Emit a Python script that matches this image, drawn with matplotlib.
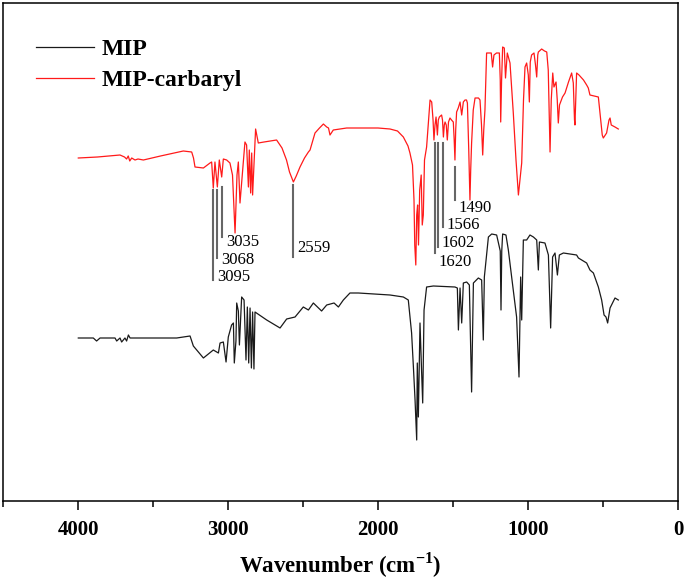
import numpy as np
import matplotlib.pyplot as plt

plt.rcParams['font.family'] = 'Liberation Serif'
plt.rcParams['mathtext.fontset'] = 'custom'
plt.rcParams['mathtext.rm'] = 'Liberation Serif'
plt.rcParams['mathtext.bf'] = 'Liberation Serif:bold'

# MIP spectrum (wavenumber, transmittance a.u.)
wn_mip = [3998, 3898, 3876, 3853, 3753, 3742, 3720, 3709, 3687, 3676, 3664, 3653, 3342, 3253,
          3231, 3164, 3098, 3064, 3053, 3031, 3013, 2998, 2976, 2964, 2958, 2947, 2942, 2931,
          2924, 2909, 2893, 2880, 2871, 2862, 2853, 2844, 2836, 2827, 2820, 2742, 2653, 2609,
          2553, 2498, 2464, 2431, 2376, 2342, 2293, 2264, 2231, 2187, 2131, 1920, 1831, 1798,
          1776, 1764, 1753, 1742, 1738, 1731, 1720, 1709, 1702, 1693, 1676, 1631, 1487, 1471,
          1464, 1453, 1442, 1431, 1409, 1391, 1376, 1364, 1331, 1309, 1298, 1291, 1264, 1242,
          1209, 1185, 1180, 1175, 1169, 1147, 1131, 1109, 1076, 1060, 1049, 1042, 1031, 1009,
          987, 964, 942, 931, 924, 887, 864, 849, 836, 820, 804, 791, 764, 676, 664, 609, 587,
          564, 531, 509, 493, 480, 469, 453, 420, 398]
t_mip = [163, 163, 160, 163, 163, 160, 163, 159, 163, 160, 166, 163, 163, 165,
         155, 143, 151, 148, 158, 159, 139, 164, 176, 178, 138, 160, 198, 190,
         156, 204, 201, 141, 194, 138, 193, 133, 189, 132, 189, 181, 173, 182,
         184, 194, 191, 198, 190, 196, 198, 194, 201, 208, 208, 206, 204, 201,
         168, 134, 101, 61, 138, 84, 178, 128, 98, 191, 214, 215, 214, 213,
         171, 213, 178, 218, 219, 216, 109, 218, 223, 221, 161, 224, 264, 267,
         266, 250, 191, 250, 267, 266, 251, 224, 184, 124, 224, 181, 261, 261,
         266, 264, 261, 231, 259, 258, 246, 173, 244, 248, 226, 246, 248, 246, 243, 238, 231,
         228, 214, 201, 186, 184, 178, 193, 203, 201]

# MIP-carbaryl spectrum
wn_car = [3998, 3870, 3720, 3690, 3676, 3665, 3655, 3642, 3620, 3600, 3564, 3450, 3298, 3242,
          3230, 3220, 3164, 3120, 3109, 3098, 3087, 3071, 3058, 3042, 3031, 3009, 2987, 2970,
          2953, 2940, 2931, 2920, 2887, 2876, 2864, 2858, 2849, 2842, 2836, 2816, 2798, 2760,
          2676, 2640, 2610, 2590, 2564, 2545, 2520, 2490, 2464, 2453, 2420, 2390, 2364, 2342,
          2330, 2320, 2298, 2209, 2100, 2000, 1920, 1870, 1831, 1800, 1787, 1770, 1760, 1755,
          1748, 1742, 1736, 1730, 1722, 1712, 1705, 1698, 1690, 1676, 1665, 1653, 1642, 1633,
          1627, 1620, 1613, 1604, 1598, 1591, 1576, 1570, 1564, 1558, 1553, 1545, 1538, 1530,
          1520, 1510, 1498, 1492, 1487, 1482, 1476, 1465, 1453, 1442, 1431, 1420, 1410, 1404,
          1395, 1387, 1382, 1376, 1365, 1353, 1330, 1320, 1310, 1302, 1295, 1287, 1280, 1276,
          1260, 1245, 1236, 1227, 1210, 1191, 1185, 1182, 1176, 1169, 1158, 1150, 1138, 1120,
          1098, 1080, 1064, 1050, 1042, 1030, 1020, 1009, 998, 991, 985, 976, 960, 950, 942,
          935, 931, 909, 890, 875, 865, 853, 845, 835, 827, 813, 805, 798, 790, 770, 753, 730,
          709, 698, 690, 687, 680, 676, 660, 630, 609, 598, 587, 560, 531, 515, 505, 498, 485,
          476, 460, 453, 445, 420, 398]
t_car = [343, 344, 346, 344, 342, 345, 340, 343, 341, 342, 341, 345, 350, 349,
         343, 334, 333, 338, 339, 313, 339, 314, 341, 324, 342, 341, 338, 326,
         268, 326, 339, 298, 359, 356, 314, 351, 308, 348, 306, 372, 358, 359,
         361, 353, 341, 329, 319, 325, 334, 343, 349, 351, 368, 373, 377, 374,
         373, 366, 371, 373, 373, 373, 372, 370, 364, 355, 348, 336, 301, 256,
         236, 286, 296, 256, 311, 326, 276, 286, 341, 354, 376, 401, 399, 381,
         361, 376, 384, 366, 381, 384, 386, 381, 364, 376, 379, 376, 361, 379,
         383, 381, 379, 361, 341, 371, 389, 393, 399, 386, 399, 401, 401, 398,
         351, 301, 331, 358, 391, 403, 403, 401, 376, 346, 371, 391, 426, 448,
         448, 448, 434, 446, 448, 448, 421, 379, 421, 454, 453, 423, 448, 438,
         388, 341, 306, 326, 338, 401, 434, 438, 426, 399, 439, 446, 448, 436, 424,
         446, 449, 452, 450, 449, 431, 349, 401, 428, 414, 419, 401, 378, 396, 404, 408, 419,
         428, 418, 381, 376, 411, 428, 426, 421, 416, 413, 406, 405, 404, 381, 366, 363, 366,
         368, 381, 383, 376, 374, 372]

# peak markers
peak_labels = ['3095', '3068', '3035', '2559', '1620', '1602', '1566', '1490']
peak_wn = [3098, 3073, 3038, 2566, 1620, 1602, 1567, 1487]
peak_top = [311, 311, 314, 316, 358, 358, 358, 334]
peak_bot = [221, 243, 264, 244, 248, 254, 274, 301]
label_y = [224, 241, 259, 253, 239, 258, 276, 293]

fig = plt.figure(figsize=(6.85, 5.83), dpi=100)
ax = fig.add_axes([3/685, 1-501/583, 675/685, 498/583])

ax.plot(wn_mip, t_mip, color='#1a1a1a', lw=0.9, label='MIP')
ax.plot(wn_car, t_car, color='#ff1a1a', lw=0.9, label='MIP-carbaryl')

for lab, w, t0, t1, ly in zip(peak_labels, peak_wn, peak_top, peak_bot, label_y):
    ax.plot([w, w], [t0, t1], color='#666666', lw=1.5)
    ax.text(w - 25, ly, lab, fontsize=12, ha='left', va='center')

ax.set_xlim(4500, 0)
ax.set_ylim(0, 498)
ax.set_yticks([])
ax.set_xticks([4000, 3000, 2000, 1000, 0])
ax.set_xticks([4500, 3500, 2500, 1500, 500], minor=True)
ax.tick_params(axis='x', which='major', direction='out', length=6.5, width=1.1, pad=7, labelsize=15)
ax.tick_params(axis='x', which='minor', direction='out', length=4.3, width=1.1)
for lbl in ax.get_xticklabels():
    lbl.set_fontweight('bold')
for s in ax.spines.values():
    s.set_linewidth(1.1)

ax.set_xlabel('Wavenumber (cm$^{\\mathbf{-1}}$)', fontsize=16.5, fontweight='bold', labelpad=8)

leg = ax.legend(loc='upper left', bbox_to_anchor=(0.0355, 0.947), frameon=False,
                prop={'size': 17, 'weight': 'bold'}, handlelength=2.45,
                handletextpad=0.3, labelspacing=0.4, borderaxespad=0)

fig.savefig('out.png', dpi=100)
